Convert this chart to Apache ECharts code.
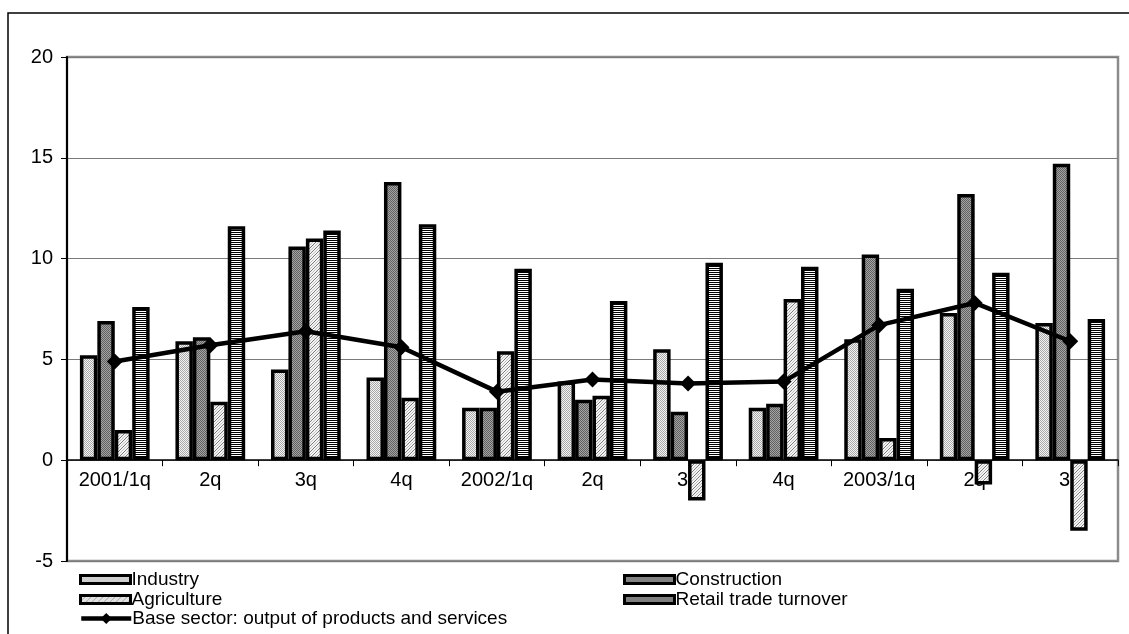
<!DOCTYPE html>
<html>
<head>
<meta charset="utf-8">
<style>
  html, body { margin: 0; padding: 0; background: #fff; }
  #chart { width: 1129px; height: 634px; }
</style>
<script src="https://cdn.jsdelivr.net/npm/echarts@6/dist/echarts.min.js"></script>
</head>
<body>
<div id="chart"></div>
<script>
// Quarterly growth figures, %
const quarters = ['2001/1q', '2q', '3q', '4q', '2002/1q', '2q', '3q', '4q', '2003/1q', '2q', '3q'];
const industry = [5.2, 5.9, 4.5, 4.1, 2.6, 3.9, 5.5, 2.6, 6.0, 7.3, 6.8];
const construction = [6.9, 6.1, 10.6, 13.8, 2.6, 3.0, 2.4, 2.8, 10.2, 13.2, 14.7];
const agriculture = [1.5, 2.9, 11.0, 3.1, 5.4, 3.2, -2.0, 8.0, 1.1, -1.2, -3.5];
const retail = [7.6, 11.6, 11.4, 11.7, 9.5, 7.9, 9.8, 9.6, 8.5, 9.3, 7.0];
const baseSector = [4.9, 5.7, 6.4, 5.6, 3.4, 4.0, 3.8, 3.9, 6.7, 7.8, 5.9];
const yTicks = { min: -5, max: 20, step: 5 };

// Small tiled canvases used as bar fills
function makePattern(w, h, paint) {
  const c = document.createElement('canvas');
  c.width = w; c.height = h;
  const g = c.getContext('2d');
  paint(g);
  return { image: c, repeat: 'repeat' };
}
function checker(a, b) {
  return makePattern(2, 2, g => {
    g.fillStyle = a; g.fillRect(0, 0, 2, 2);
    g.fillStyle = b; g.fillRect(0, 0, 1, 1); g.fillRect(1, 1, 1, 1);
  });
}
const fillIndustry = checker('#f4f4f4', '#a8a8a8');
const fillConstruction = checker('#a4a4a4', '#606060');
const fillAgriculture = makePattern(6, 6, g => {
  g.fillStyle = '#f4f4f4'; g.fillRect(0, 0, 6, 6);
  g.fillStyle = '#7a7a7a';
  for (let i = 0; i < 6; i++) { g.fillRect(i, 5 - i, 1, 1); }
  g.fillStyle = '#c0c0c0';
  for (let i = 0; i < 6; i++) { g.fillRect((i + 3) % 6, 5 - i, 1, 1); }
});
const fillRetail = makePattern(2, 2, g => {
  g.fillStyle = '#ffffff'; g.fillRect(0, 0, 2, 2);
  g.fillStyle = '#000000'; g.fillRect(0, 0, 2, 1);
});

const chart = echarts.init(document.getElementById('chart'), null, { renderer: 'canvas' });
const font = 'Liberation Sans, Arial, sans-serif';

// Plot box, px
const plot = { left: 67, right: 11, top: 57, bottom: 73 };
const plotHeight = 634 - plot.top - plot.bottom;
// Category axis sits on the zero line of the value scale
const zeroFromBottom = (0 - yTicks.min) / (yTicks.max - yTicks.min) * plotHeight;

function barSeries(name, data, fill) {
  return {
    name: name,
    type: 'bar',
    data: data,
    barGap: '0%',
    barCategoryGap: '27%',
    itemStyle: { color: fill, borderColor: '#000', borderWidth: 3.5 },
    emphasis: { disabled: true },
    z: 2
  };
}

function legendAt(name, left, top) {
  return {
    data: [{ name: name, icon: 'rect' }],
    left: left,
    top: top,
    itemWidth: 50,
    itemHeight: 8,
    padding: 0,
    selectedMode: false,
    itemStyle: { borderColor: '#000', borderWidth: 3 },
    textStyle: { fontFamily: font, fontSize: 19, color: '#000', padding: [0, 0, 0, -4] }
  };
}

chart.setOption({
  animation: false,
  backgroundColor: '#fff',
  graphic: [{
    type: 'rect',
    shape: { x: 8, y: 13, width: 1300, height: 800 },
    style: { fill: 'none', stroke: '#000', lineWidth: 1.5 },
    silent: true
  }],
  grid: {
    left: plot.left, right: plot.right, top: plot.top, bottom: plot.bottom,
    show: true, borderColor: '#8c8c8c', borderWidth: 2.5, backgroundColor: '#fff'
  },
  legend: [
    legendAt('Industry', 79, 570),
    legendAt('Construction', 623, 570),
    legendAt('Agriculture', 79, 590),
    legendAt('Retail trade turnover', 623, 590),
    {
      data: [{ name: 'Base sector: output of products and services' }],
      left: 79, top: 609,
      itemWidth: 50, itemHeight: 14, padding: 0, selectedMode: false,
      lineStyle: { width: 4.5, color: '#000' },
      textStyle: { fontFamily: font, fontSize: 19, color: '#000', padding: [0, 0, 0, -4] }
    }
  ],
  xAxis: {
    type: 'category',
    data: quarters,
    boundaryGap: true,
    offset: -zeroFromBottom,
    axisLine: { onZero: false, lineStyle: { color: '#000', width: 1.5 } },
    axisTick: { show: true, alignWithLabel: false, inside: false, length: 6, lineStyle: { color: '#000', width: 1 } },
    axisLabel: { fontFamily: font, fontSize: 20, color: '#000', margin: 10 },
    splitLine: { show: false }
  },
  yAxis: {
    type: 'value',
    min: yTicks.min,
    max: yTicks.max,
    interval: yTicks.step,
    axisLine: { show: true, lineStyle: { color: '#000', width: 2 } },
    axisTick: { show: true, length: 6, lineStyle: { color: '#000', width: 1 } },
    axisLabel: { fontFamily: font, fontSize: 20, color: '#000', margin: 14 },
    splitLine: { show: true, lineStyle: { color: '#7a7a7a', width: 1.2 } }
  },
  series: [
    barSeries('Industry', industry, fillIndustry),
    barSeries('Construction', construction, fillConstruction),
    barSeries('Agriculture', agriculture, fillAgriculture),
    barSeries('Retail trade turnover', retail, fillRetail),
    {
      name: 'Base sector: output of products and services',
      type: 'line',
      data: baseSector,
      symbol: 'diamond',
      symbolSize: 16,
      lineStyle: { color: '#000', width: 4.5 },
      itemStyle: { color: '#000' },
      emphasis: { disabled: true },
      z: 5
    }
  ]
});
</script>
</body>
</html>
